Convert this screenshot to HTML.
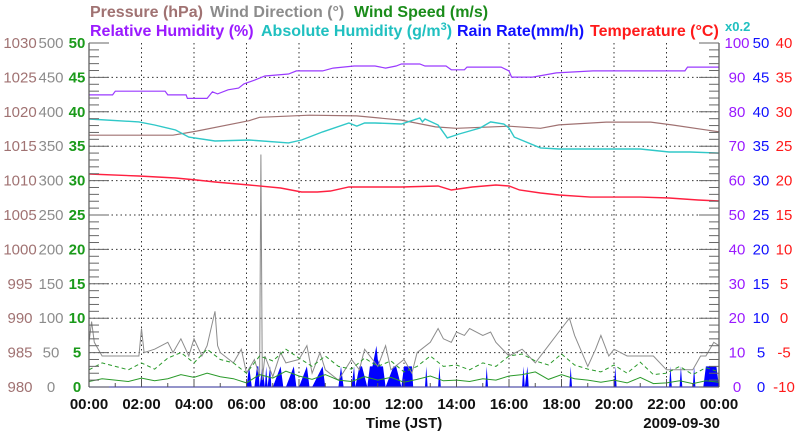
<!DOCTYPE html>
<html><head><meta charset="utf-8"><style>
html,body{margin:0;padding:0;background:#fff;}
svg{display:block;font-family:"Liberation Sans",Arial,sans-serif;}
</style></head><body>
<svg id="chart" width="800" height="434" viewBox="0 0 800 434" xmlns="http://www.w3.org/2000/svg">
<g id="title" font-size="16" font-weight="bold">
 <text x="90" y="17" fill="#a07272">Pressure (hPa)</text>
 <text x="210" y="17" fill="#8c8c8c">Wind Direction (°)</text>
 <text x="354" y="17" fill="#1a8c1a">Wind Speed (m/s)</text>
 <text x="90" y="36" fill="#9a1aff">Relative Humidity (%)</text>
 <text x="261" y="36" fill="#20c0c0">Absolute Humidity (g/m<tspan dy="-6" font-size="11">3</tspan><tspan dy="6">)</tspan></text>
 <text x="457" y="36" fill="#1010ff">Rain Rate(mm/h)</text>
 <text x="590" y="36" fill="#ff1a1a">Temperature (°C)</text>
 <text x="725" y="31" font-size="13" fill="#20c0c0">x0.2</text>
</g>
<g id="grid"></g>
<g id="series"></g>
<g id="axes"></g>
<text x="404" y="428" font-size="15" font-weight="bold" text-anchor="middle" fill="#111">Time (JST)</text>
<text x="720" y="428" font-size="15" font-weight="bold" text-anchor="end" fill="#111">2009-09-30</text>
</svg>
<script>
// ---- data ----
const xTickLabels = ["00:00","02:00","04:00","06:00","08:00","10:00","12:00","14:00","16:00","18:00","20:00","22:00","00:00"];
const pressureTicks = [980,985,990,995,1000,1005,1010,1015,1020,1025,1030];
const windDirTicks = [0,50,100,150,200,250,300,350,400,450,500];
const windSpeedTicks = [0,5,10,15,20,25,30,35,40,45,50];
const humidityTicks = [0,10,20,30,40,50,60,70,80,90,100];
const rainTicks = [0,5,10,15,20,25,30,35,40,45,50];
const tempTicks = [-10,-5,0,5,10,15,20,25,30,35,40];

const pressureTimes = [0,3.2,4.1,6.1,6.5,8.4,10.2,11.9,13.2,14,16,17.2,17.9,19.7,21.4,22.2,24];
const pressureValues = [1016.6,1016.6,1017.2,1018.7,1019.2,1019.5,1019.4,1018.8,1017.8,1017.6,1017.9,1017.6,1018.1,1018.5,1018.5,1018.1,1017.1];

const ahTimes = [0,1.9,2.5,3.3,3.8,4.8,6.1,7.6,8.1,8.9,9.9,10.2,10.5,10.9,11.9,12.6,12.7,12.8,13.3,13.65,14.1,14.9,15.3,15.8,16,16.2,17.2,17.9,19.1,21,22.1,22.9,24];
const ahValues = [15.58,15.41,15.23,14.94,14.53,14.3,14.36,14.19,14.36,14.83,15.35,15.17,15.35,15.35,15.29,15.64,15.41,15.58,15.23,14.48,14.71,15.06,15.41,15.29,15.06,14.53,13.9,13.84,13.84,13.84,13.66,13.66,13.6];

const tempTimes = [0,1.9,3.3,4.1,4.8,6.1,7.3,8.1,8.7,9.2,9.9,10.9,11.9,13.3,13.8,14.6,15.5,16,16.4,17.2,17.9,19.1,21,22.1,23.2,24];
const tempValues = [20.96,20.67,20.38,20.09,19.8,19.36,18.92,18.34,18.34,18.49,19.07,19.07,19.07,19.22,18.63,19.07,19.36,19.22,18.63,18.2,17.9,17.6,17.6,17.47,17.18,17.03];

const rhTimes = [0,0.9,1.0,2.9,3.0,3.7,3.75,4.5,4.7,4.9,5.3,5.7,5.9,6.3,6.7,7.6,7.9,8.9,9.3,10.1,10.9,11.3,11.7,11.9,12.6,12.8,13.6,13.8,14.3,14.4,15.7,16,16.1,16.9,17.8,19.2,22.7,22.8,24];
const rhValues = [84.9,84.9,86.0,86.0,84.9,84.9,83.9,83.9,85.8,85.2,86.4,86.9,88.1,89.2,90.4,91.0,91.9,91.9,92.7,93.3,93.3,92.7,93.3,93.9,93.9,93.3,93.3,92.2,92.2,93.0,93.0,91.9,90.1,90.1,91.3,91.9,91.9,93.0,93.0];

const windDirTimes = [0,0.1,0.2,0.5,1,1.5,1.9,2,2.1,2.5,3,3.2,3.5,3.8,4,4.3,4.5,4.8,4.9,5,5.5,5.8,6,6.3,6.5,6.55,6.6,6.7,7,7.3,7.5,8,8.3,8.5,8.8,9,9.5,10,10.3,10.5,11,11.3,11.5,12,12.3,12.5,13,13.3,13.5,13.8,14,14.3,14.5,15,15.3,15.5,16,16.5,17,17.5,18,18.3,18.5,19,19.3,19.5,19.8,20,20.5,21,21.5,22,22.5,23,23.3,23.5,23.8,24];
const windDirValues = [65,95,65,45,45,45,45,85,50,55,65,50,70,45,70,45,60,110,60,50,35,55,20,40,15,338,10,45,15,50,35,40,60,20,50,25,10,40,25,55,30,60,25,40,20,50,65,85,70,65,80,75,85,75,80,65,45,55,35,60,85,100,75,30,55,75,45,55,45,45,45,25,25,25,45,45,65,60];

const windAvgTimes = [0,0.5,1,1.5,2,2.5,3,3.5,4,4.5,5,5.5,6,6.5,7,7.5,8,8.5,9,9.5,10,10.5,11,11.5,12,12.5,13,13.5,14,14.5,15,15.5,16,16.5,17,17.5,18,18.5,19,19.5,20,20.5,21,21.5,22,22.5,23,23.5,24];
const windAvgValues = [0.8,1.2,1.0,0.8,1.3,0.9,1.2,1.8,1.4,2.0,1.5,1.2,0.6,1.8,1.3,2.3,1.6,1.1,1.8,1.0,0.8,1.5,1.0,1.4,0.7,1.1,1.6,0.9,1.0,0.8,1.2,1.0,1.6,1.8,2.2,1.1,1.8,1.2,1.0,0.7,1.0,0.6,1.4,0.5,0.6,0.9,0.5,0.9,0.7];
const windGustValues = [2.5,3.5,3.0,2.5,3.5,2.6,4.2,5.0,3.5,5.5,4.0,3.5,2.0,4.5,3.8,5.5,4.2,3.0,4.5,3.0,2.6,4.2,3.0,3.8,2.2,3.0,4.5,3.0,3.2,2.5,3.5,3.0,4.5,4.8,3.8,3.2,4.8,3.2,2.6,2.2,3.2,2.0,3.6,1.8,2.0,3.0,1.8,2.8,2.2];

const rainTimes = [6.0,6.1,6.2,6.3,6.4,6.45,6.5,6.6,6.7,6.75,6.8,6.9,6.95,7.0,7.3,7.4,7.5,7.8,7.9,8.0,8.3,8.4,8.5,8.9,9.0,9.5,9.6,9.7,9.9,10.0,10.1,10.15,10.3,10.4,10.6,10.7,10.8,10.95,11.0,11.1,11.2,11.3,11.6,11.7,11.9,12.0,12.3,12.35,12.8,12.85,12.9,13.3,13.35,13.4,15.1,15.15,15.2,16.5,16.55,16.6,16.7,16.75,16.8,18.3,18.35,18.4,20.0,20.05,20.1,22.1,22.15,22.2,22.5,22.55,22.6,23.0,23.05,23.1,23.4,23.5,23.7,23.8,23.9,24];
const rainValues = [0,3,0,0,3,3,0,3,0,3,0,3,0,0,3,0,0,3,0,0,3,0,0,3,0,0,3,0,0,0,3,0,3,3,0,3,3,6,4,3,3,0,3,3,0,3,3,0,0,3,0,0,3,0,0,3,0,0,3,0,3,0,0,0,3,0,0,3,0,0,3,0,0,3,0,0,3,0,0,3,3,3,3,0];

// ---- scales ----
const L=89,R=719,T=43,B=387;
const x = h => L + (R-L)*h/24;
const yFrac = f => B - (B-T)*f;
const yPressure = v => yFrac((v-980)/50);
const yWindDir = v => yFrac(v/500);
const yWindSpeed = v => yFrac(v/50);
const yRH = v => yFrac(v/100);
const yAH = v => yFrac(v/20);
const yTemp = v => yFrac((v+10)/50);
const yRain = v => yFrac(v/50);

const NS="http://www.w3.org/2000/svg";
function mk(tag, parent){const e=document.createElementNS(NS,tag);parent.appendChild(e);return e;}
const grid=document.getElementById('grid'), series=document.getElementById('series'), axes=document.getElementById('axes');

for(let i=1;i<10;i++){
  const gy=yFrac(i/10);
  const l=mk('line',grid);
  
  
  l.setAttribute('x1',L);l.setAttribute('x2',R);l.setAttribute('y1',gy);l.setAttribute('y2',gy);
  l.setAttribute('stroke','#333');l.setAttribute('stroke-dasharray','1.5,3');l.setAttribute('stroke-width','1');
}
for(let i=1;i<12;i++){
  const l=mk('line',grid);
  
  
  l.setAttribute('x1',x(i*2));l.setAttribute('x2',x(i*2));l.setAttribute('y1',T);l.setAttribute('y2',B);
  l.setAttribute('stroke','#333');l.setAttribute('stroke-dasharray','1.5,3');l.setAttribute('stroke-width','1');
}

function path(ts, vs, yf, color, name, width, dash){
  const p=mk('path',series);
  
  
  p.setAttribute('d',ts.map((t,i)=>(i?'L':'M')+x(t).toFixed(1)+','+yf(vs[i]).toFixed(1)).join(''));
  p.setAttribute('fill','none');p.setAttribute('stroke',color);p.setAttribute('stroke-width',width||1.2);
  if(dash)p.setAttribute('stroke-dasharray',dash);
}
{
  const p=mk('path',series);
  
  
  let d='M'+x(rainTimes[0]).toFixed(1)+','+B;
  rainTimes.forEach((t,i)=>{d+='L'+x(t).toFixed(1)+','+yRain(rainValues[i]).toFixed(1);});
  d+='L'+x(rainTimes[rainTimes.length-1]).toFixed(1)+','+B+'Z';
  p.setAttribute('d',d);p.setAttribute('fill','#0000ff');
}
path(windDirTimes, windDirValues, yWindDir, '#8c8c8c', 'wind-direction-line', 1);
path(windAvgTimes, windGustValues, yWindSpeed, '#2a9a2a', 'wind-gust-line', 1, '4,3');
path(windAvgTimes, windAvgValues, yWindSpeed, '#2a9a2a', 'wind-speed-line', 1);
path(pressureTimes, pressureValues, yPressure, '#a07272', 'pressure-line', 1.2);
path(ahTimes, ahValues, yAH, '#30c8c8', 'absolute-humidity-line', 1.4);
path(rhTimes, rhValues, yRH, '#9a3aff', 'relative-humidity-line', 1.2);
path(tempTimes, tempValues, yTemp, '#ff2040', 'temperature-line', 1.4);

function line(x1,y1,x2,y2,c,w,name){const l=mk('line',axes);
  
  
  l.setAttribute('x1',x1);l.setAttribute('y1',y1);l.setAttribute('x2',x2);l.setAttribute('y2',y2);l.setAttribute('stroke',c);l.setAttribute('stroke-width',w);}
line(L,T,L,B,'#555',1.2,'left-axis-line');
line(R,T,R,B,'#555',1.2,'right-axis-line');
line(L,B,R,B,'#5555aa',1.2,'bottom-axis-line');
for(let i=0;i<=50;i++){
  const ty=yFrac(i/50), major=i%5===0;
  line(L,ty,L+(major?20:10),ty,'#666',1,'left-tick');
  line(R-(major?20:10),ty,R,ty,'#666',1,'right-tick');
}
for(let i=0;i<=24;i++){
  line(x(i),B,x(i),B-(i%2===0?8:4),'#555',1,'x-tick');
}
function label(tx,ty,s,c,name,anchor,weight){const t=mk('text',axes);
  
  
  t.setAttribute('x',tx);t.setAttribute('y',ty);t.setAttribute('fill',c);t.setAttribute('font-size','15');
  t.setAttribute('text-anchor',anchor||'middle');if(weight)t.setAttribute('font-weight',weight);t.textContent=s;}
for(let i=0;i<=10;i++){
  const ty=yFrac(i/10)+5;
  label(20,ty,pressureTicks[i],'#a07272','pressure-tick-label');
  label(51,ty,windDirTicks[i],'#8c8c8c','wind-direction-tick-label');
  label(77,ty,windSpeedTicks[i],'#1a9a1a','wind-speed-tick-label','middle','bold');
  label(737,ty,humidityTicks[i],'#9a1aff','humidity-tick-label');
  label(761,ty,rainTicks[i],'#1010ff','rain-rate-tick-label');
  label(784,ty,tempTicks[i],'#ff1a1a','temperature-tick-label');
}
xTickLabels.forEach((s,i)=>label(x(i*2),409,s,'#111','x-tick-label','middle','bold'));
</script>
</body></html>
